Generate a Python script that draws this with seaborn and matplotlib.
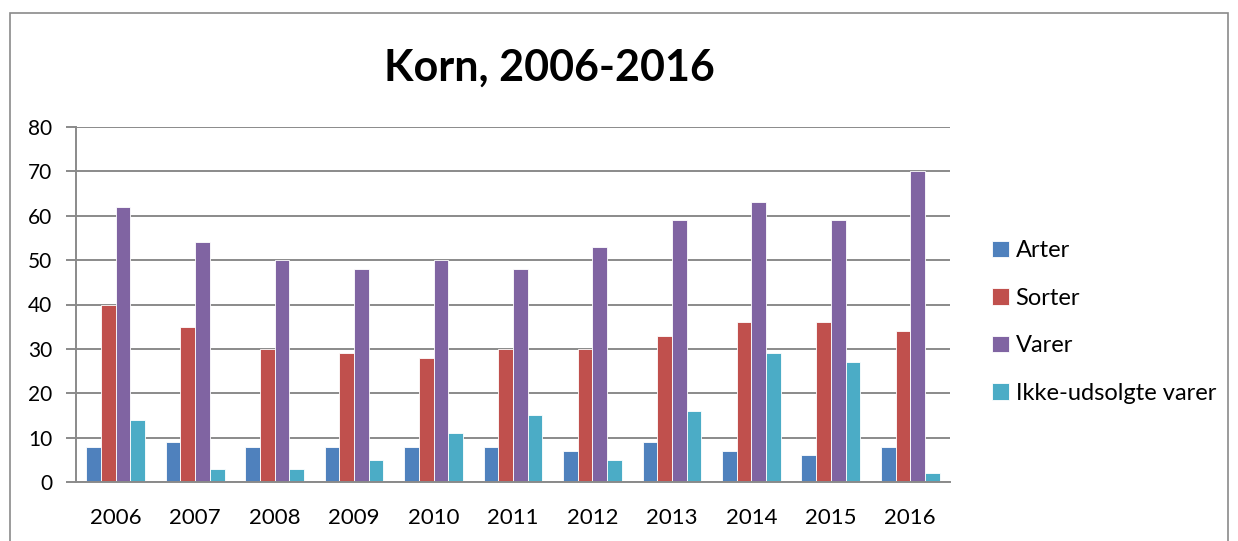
import matplotlib
matplotlib.use("Agg")
import matplotlib.pyplot as plt
import seaborn as sns
import pandas as pd
import numpy as np
from matplotlib.patches import Rectangle

years = ["2006", "2007", "2008", "2009", "2010", "2011", "2012", "2013", "2014", "2015", "2016"]
arter = [8, 9, 8, 8, 8, 8, 7, 9, 7, 6, 8]
sorter = [40, 35, 30, 29, 28, 30, 30, 33, 36, 36, 34]
varer = [62, 54, 50, 48, 50, 48, 53, 59, 63, 59, 70]
ikke = [14, 3, 3, 5, 11, 15, 5, 16, 29, 27, 2]
series_names = ["Arter", "Sorter", "Varer", "Ikke-udsolgte varer"]
colors = ["#4F81BD", "#C0504D", "#8064A2", "#4BACC6"]
y_ticks = [0, 10, 20, 30, 40, 50, 60, 70, 80]

rows = []
for name, vals in zip(series_names, [arter, sorter, varer, ikke]):
    for y, v in zip(years, vals):
        rows.append({"year": y, "series": name, "value": v})
df = pd.DataFrame(rows)

sns.set_theme(style="white")
plt.rcParams["font.family"] = ["Lato", "DejaVu Sans"]
plt.rcParams["text.color"] = "black"
plt.rcParams["xtick.color"] = "black"
plt.rcParams["ytick.color"] = "black"

fig = plt.figure(figsize=(12.38, 5.41), dpi=100)
ax = fig.add_axes([76/1238, 1 - 482/541, (950-76)/1238, (482-127)/541])

sns.barplot(data=df, x="year", y="value", hue="series", palette=colors,
            width=0.74, ax=ax, saturation=1, edgecolor="white", linewidth=0.6,
            legend=True)

ax.set_ylim(0, 80)
ax.set_xlim(-0.5, len(years) - 0.5)
ax.set_yticks(y_ticks)
ax.set_yticklabels([str(t) for t in y_ticks], fontsize=15)
ax.set_xlabel("")
ax.set_ylabel("")
ax.yaxis.grid(True, color="#8A8A8A", linewidth=1.4)
ax.set_axisbelow(True)
for s in ["top", "right"]:
    ax.spines[s].set_visible(False)
ax.spines["left"].set_color("#8A8A8A")
ax.spines["left"].set_linewidth(1.4)
ax.spines["bottom"].set_color("#8A8A8A")
ax.spines["bottom"].set_linewidth(1.4)

# x tick marks at category boundaries, labels centered
ax.set_xticks(np.arange(len(years)))
ax.set_xticklabels(years, fontsize=16)
ax.tick_params(axis="x", which="major", length=0, pad=19)
ax.set_xticks(np.arange(len(years) + 1) - 0.5, minor=True)
ax.tick_params(axis="x", which="minor", length=7, width=1.4, color="#8A8A8A", direction="out")
ax.tick_params(axis="y", length=7, width=1.4, color="#8A8A8A", labelcolor="black",
               direction="out", left=True, pad=10)
ax.tick_params(axis="x", labelcolor="black")

fig.text(549/1238, 1 - 68/541, "Korn, 2006-2016", ha="center", va="center",
         fontsize=31, fontweight="bold", color="black")

handles, labels = ax.get_legend_handles_labels()
leg = ax.legend(handles, labels, loc="center left", bbox_to_anchor=(992/1238, 1 - 322/541),
                bbox_transform=fig.transFigure, frameon=False, fontsize=17,
                handlelength=0.7, handleheight=0.7, handletextpad=0.3,
                labelspacing=1.12, borderpad=0, borderaxespad=0)
for t in leg.get_texts():
    t.set_color("black")

fig.patches.append(Rectangle((10/1238, -0.05), (1228-10)/1238, 1.05 - 13/541,
                             transform=fig.transFigure, fill=False,
                             edgecolor="#8A8A8A", linewidth=1.2))

fig.savefig("out.png", dpi=100, facecolor="white")
